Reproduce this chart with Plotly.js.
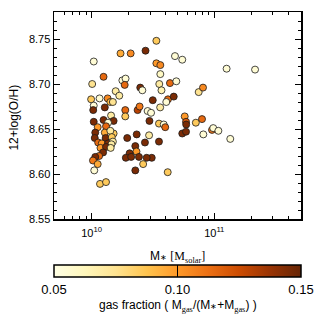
<!DOCTYPE html>
<html>
<head>
<meta charset="utf-8">
<script src="https://cdn.plot.ly/plotly-3.0.1.min.js"></script>
<style>html,body{margin:0;padding:0;background:#fff;}#chart{width:316px;height:316px;}</style>
</head>
<body>
<div id="chart"></div>
<script>
// stellar mass in units of 1e10 Msolar
var massE10 = [3.37,1.72,2.08,2.75,1.04,4.78,5.48,3.37,3.63,12.6,21.5,3.63,1.25,1.01,1.78,1.89,1.86,1.57,1.68,2.49,
  2.59,3.56,4.35,4.90,3.71,7.46,8.09,0.99,1.16,1.35,1.42,1.49,1.04,1.03,1.28,1.88,2.37,2.46,3.15,4.19,
  4.67,4.06,3.62,2.86,3.05,1.44,1.88,5.74,7.94,5.88,5.90,7.07,3.54,3.87,3.98,2.96,5.48,5.88,8.14,9.58,
  9.80,10.8,13.5,2.94,3.54,2.72,3.09,4.17,1.04,1.25,1.51,1.36,1.12,1.31,1.07,1.28,1.51,1.42,1.06,1.30,
  1.46,1.13,1.21,1.36,1.49,1.45,1.18,1.31,1.43,1.95,2.33,2.27,2.32,2.04,1.90,2.10,2.43,2.81,2.63,2.27,
  1.24,1.15,1.07,1.025,1.12,1.05,1.17,1.31];
// 12+log(O/H)
var metallicity = [8.748,8.734,8.734,8.737,8.725,8.731,8.727,8.723,8.721,8.717,8.716,8.711,8.708,8.700,8.704,8.706,8.699,8.692,8.687,8.696,
  8.693,8.700,8.701,8.703,8.693,8.691,8.696,8.683,8.684,8.684,8.680,8.680,8.676,8.671,8.674,8.671,8.671,8.675,8.682,8.683,
  8.686,8.680,8.674,8.670,8.668,8.665,8.664,8.664,8.661,8.658,8.655,8.657,8.656,8.655,8.652,8.659,8.645,8.647,8.644,8.649,
  8.651,8.648,8.639,8.643,8.636,8.635,8.618,8.602,8.658,8.660,8.659,8.657,8.652,8.653,8.646,8.646,8.645,8.648,8.640,8.640,
  8.641,8.635,8.634,8.634,8.636,8.633,8.629,8.630,8.629,8.640,8.644,8.631,8.625,8.623,8.618,8.619,8.619,8.618,8.611,8.604,
  8.624,8.620,8.619,8.615,8.611,8.604,8.589,8.591];
// gas fraction Mgas/(M*+Mgas)
var gasFraction = [0.085,0.095,0.105,0.145,0.055,0.055,0.055,0.10,0.105,0.055,0.055,0.06,0.115,0.075,0.055,0.055,0.115,0.07,0.07,0.145,
  0.055,0.07,0.115,0.055,0.065,0.075,0.105,0.085,0.055,0.105,0.09,0.075,0.055,0.145,0.145,0.115,0.13,0.11,0.145,0.115,
  0.145,0.055,0.07,0.055,0.055,0.07,0.085,0.10,0.115,0.12,0.145,0.085,0.085,0.055,0.115,0.145,0.145,0.145,0.055,0.11,
  0.055,0.055,0.055,0.07,0.145,0.145,0.145,0.085,0.145,0.145,0.145,0.055,0.10,0.115,0.145,0.095,0.085,0.07,0.145,0.145,
  0.085,0.115,0.10,0.145,0.07,0.07,0.10,0.145,0.07,0.145,0.145,0.145,0.10,0.145,0.145,0.145,0.145,0.145,0.085,0.145,
  0.145,0.115,0.145,0.11,0.095,0.055,0.085,0.085];

var xTickVals = [1e10, 1e11];
var xTickText = ['10<sup>10</sup>', '10<sup>11</sup>'];
var xMinorVals = [6e9,7e9,8e9,9e9,2e10,3e10,4e10,5e10,6e10,7e10,8e10,9e10,2e11,3e11,4e11];
var cbTickVals = [0.05, 0.10, 0.15];
var cbTickText = ['0.05', '0.10', '0.15'];

var ylorbr = [[0,'#ffffe5'],[0.125,'#fff7bc'],[0.25,'#fee391'],[0.375,'#fec44f'],[0.5,'#fe9929'],
  [0.625,'#ec7014'],[0.75,'#cc4c02'],[0.875,'#993404'],[1,'#662506']];

var mass = massE10.map(function(m){ return m * 1e10; });

var SANS = 'Liberation Sans, Arial, sans-serif';
var SERIF = 'Liberation Serif, Times New Roman, serif';

var trace = {
  type: 'scatter', mode: 'markers',
  x: mass, y: metallicity,
  marker: {
    size: 7, color: gasFraction, cmin: 0.05, cmax: 0.15, colorscale: ylorbr,
    line: {color: '#1a1a1a', width: 0.8},
    colorbar: {
      orientation: 'h', x: 0.5, xanchor: 'center', y: -0.221, yanchor: 'top',
      len: 1, lenmode: 'fraction', thickness: 12, thicknessmode: 'pixels',
      outlinewidth: 1.5, outlinecolor: '#000', xpad: 0, ypad: 0,
      tickmode: 'array', tickvals: cbTickVals, ticktext: cbTickText,
      ticks: 'inside', ticklen: 12, tickcolor: '#000', tickwidth: 1,
      tickfont: {family: SANS, size: 13, color: '#000'}
    }
  },
  showlegend: false, hoverinfo: 'skip'
};

var layout = {
  width: 316, height: 316,
  margin: {l: 54, r: 15, t: 12, b: 97, autoexpand: false},
  paper_bgcolor: '#fff', plot_bgcolor: '#fff',
  font: {family: SANS, color: '#000'},
  xaxis: {
    type: 'log', range: [9.693, 11.707], automargin: false,
    tickmode: 'array', tickvals: xTickVals, ticktext: xTickText,
    ticks: 'inside', ticklen: 6, tickwidth: 1, tickcolor: '#000', ticklabelstandoff: 3,
    minor: {tickmode: 'array', tickvals: xMinorVals, ticks: 'inside', ticklen: 3, tickwidth: 1, tickcolor: '#000', showgrid: false},
    showgrid: false, zeroline: false, showline: true, linecolor: '#000', linewidth: 1.5, mirror: 'allticks',
    tickfont: {family: SANS, size: 11, color: '#000'}
  },
  yaxis: {
    range: [8.55, 8.78], automargin: false,
    tickmode: 'linear', tick0: 8.55, dtick: 0.05, tickformat: '.2f',
    ticks: 'inside', ticklen: 6, tickwidth: 1, tickcolor: '#000',
    minor: {dtick: 0.01, ticks: 'inside', ticklen: 3, tickwidth: 1, tickcolor: '#000', showgrid: false},
    showgrid: false, zeroline: false, showline: true, linecolor: '#000', linewidth: 1.5, mirror: 'allticks',
    tickfont: {family: SANS, size: 11, color: '#000'}
  },
  annotations: [
    {xref: 'paper', yref: 'paper', x: 0.5, y: -0.182, xanchor: 'center', yanchor: 'middle', showarrow: false,
     text: 'M<span style="font-size:8px">\u2217</span> <span style="font-family:' + SERIF + '">[M<sub>solar</sub>]</span>',
     font: {family: SANS, size: 12, color: '#000'}},
    {xref: 'paper', yref: 'paper', x: -0.162, y: 0.49, xanchor: 'center', yanchor: 'middle', showarrow: false,
     textangle: -90, text: '12+log(O/H)', font: {family: SANS, size: 12, color: '#000'}},
    {xref: 'paper', yref: 'paper', x: 0.5, y: -0.42, xanchor: 'center', yanchor: 'middle', showarrow: false,
     text: 'gas fraction ( M<sub><span style="font-family:' + SERIF + '">gas</span></sub>/(M<span style="font-size:8px">\u2217</span>+M<sub><span style="font-family:' + SERIF + '">gas</span></sub>) )',
     font: {family: SANS, size: 12, color: '#000'}}
  ]
};

Plotly.newPlot('chart', [trace], layout, {displayModeBar: false, staticPlot: true});
</script>
</body>
</html>
